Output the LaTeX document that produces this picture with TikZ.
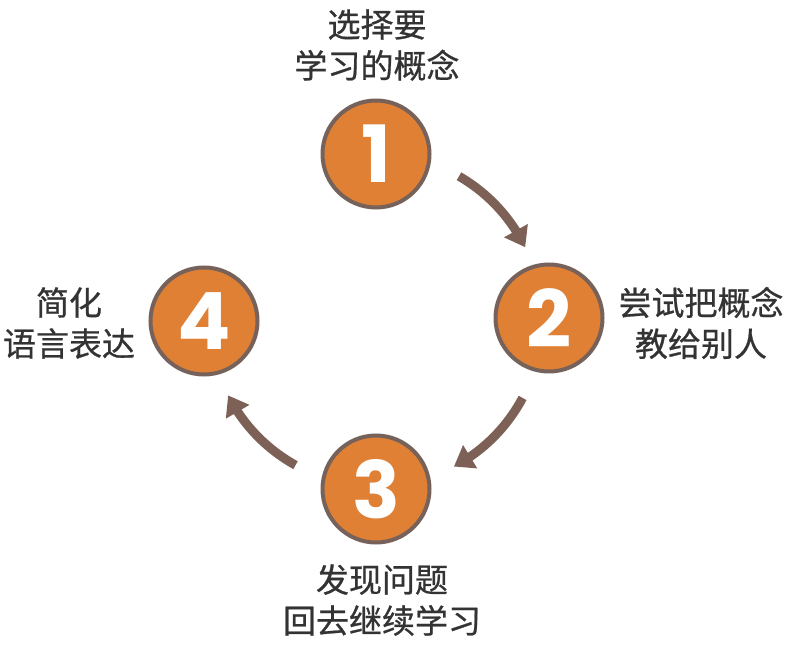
\documentclass[tikz,border=0pt]{standalone}
\usepackage{fontspec}
\newfontfamily\cjk[FakeBold=0.7]{Noto Sans CJK SC}
\newfontfamily\numfont{Poppins}
\usetikzlibrary{arrows.meta,bending}
\definecolor{orangefill}{HTML}{DF8034}
\definecolor{brownline}{HTML}{76625A}
\definecolor{arrowbrown}{HTML}{7D6056}
\definecolor{textgray}{HTML}{333333}
\begin{document}
\begin{tikzpicture}[x=1pt,y=1pt,
  stepcircle/.style={circle,draw=brownline,line width=4pt,fill=orangefill,minimum size=107pt,inner sep=0pt,
    text=white,font=\numfont\bfseries\fontsize{79}{79}\selectfont},
  steplabel/.style={align=center,text=textgray,inner sep=0pt,font=\cjk\fontsize{33}{41}\selectfont},
  cyclearrow/.style={draw=arrowbrown,line width=9pt,-{Triangle[length=19pt,width=26pt,flex]}}]
\useasboundingbox (0,0) rectangle (795,-652);
\coordinate (ctr) at (376,-320);
\node[stepcircle] (c1) at (376,-154) {1};
\node[stepcircle] (c2) at (549,-318) {2};
\node[stepcircle] (c3) at (376,-489) {3};
\node[stepcircle] (c4) at (204,-321) {4};
\node[steplabel] (l1) at (377,-45) {选择要\\学习的概念};
\node[steplabel] (l2) at (701,-323) {尝试把概念\\教给别人};
\node[steplabel] (l3) at (69,-323) {简化\\语言表达};
\node[steplabel] (l4) at (382,-600) {发现问题\\回去继续学习};
\draw[cyclearrow] ([shift={(60:166)}]ctr) arc[start angle=60,end angle=26,radius=166];
\draw[cyclearrow] ([shift={(-28:166)}]ctr) arc[start angle=-28,end angle=-62,radius=166];
\draw[cyclearrow] ([shift={(241:166)}]ctr) arc[start angle=241,end angle=207,radius=166];
\end{tikzpicture}
\end{document}
